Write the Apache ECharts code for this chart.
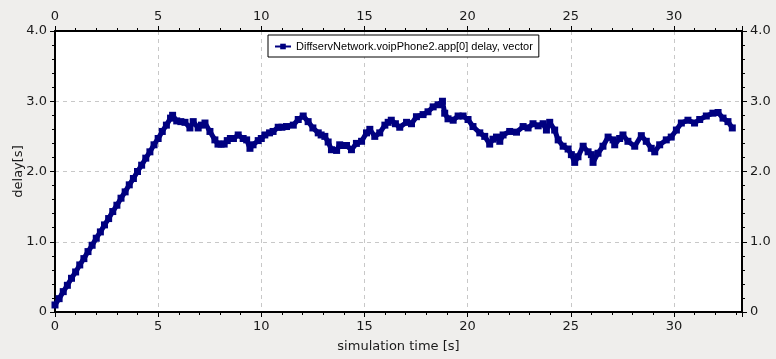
<!DOCTYPE html>
<html>
<head>
<meta charset="utf-8">
<script src="https://cdn.jsdelivr.net/npm/echarts@6/dist/echarts.min.js"></script>
<style>
html,body{margin:0;padding:0;background:#efeeec;}
#c{width:776px;height:359px;}
</style>
</head>
<body>
<div id="c"></div>
<script>
const seriesName = 'DiffservNetwork.voipPhone2.app[0] delay, vector';
const times = [0,0.2,0.4,0.6,0.8,1.0,1.2,1.4,1.6,1.8,2.0,2.2,2.4,2.6,2.8,3.0,3.2,3.4,3.6,3.8,4.0,4.2,4.4,4.6,4.8,5.0,5.2,5.4,5.6,
5.7,5.9,6.1,6.3,6.54,6.7,6.94,7.1,7.27,7.51,7.75,7.9,8.05,8.2,8.35,8.5,8.65,8.88,9.12,9.29,9.45,9.6,9.85,10.0,10.17,10.4,10.57,10.82,11.0,11.22,11.55,11.79,12.03,12.27,12.5,12.76,12.9,13.08,13.24,13.4,13.65,13.8,13.95,14.13,14.37,14.61,14.86,15.1,15.26,15.5,15.74,15.99,16.15,16.3,16.5,16.71,17.04,17.28,17.52,17.84,18.08,18.33,18.57,18.78,18.89,19.05,19.3,19.54,19.78,20.02,20.26,20.59,20.83,21.07,21.23,21.4,21.56,21.72,22.04,22.37,22.69,22.93,23.17,23.42,23.66,23.82,23.98,24.22,24.39,24.63,24.87,25.03,25.19,25.35,25.6,25.84,26.0,26.08,26.32,26.56,26.81,27.05,27.13,27.37,27.53,27.77,28.1,28.42,28.66,28.9,29.07,29.31,29.63,29.87,30.12,30.36,30.68,31.0,31.25,31.57,31.89,32.14,32.38,32.62,32.83];
const delays = [0.10,0.19,0.29,0.38,0.48,0.57,0.67,0.76,0.86,0.95,1.05,1.14,1.24,1.33,1.43,1.52,1.62,1.71,1.81,1.90,2.00,2.09,2.19,2.28,2.38,2.47,2.57,2.66,2.76,
2.80,2.72,2.71,2.70,2.62,2.71,2.62,2.66,2.69,2.57,2.45,2.39,2.39,2.39,2.44,2.47,2.47,2.52,2.47,2.45,2.33,2.38,2.44,2.47,2.52,2.55,2.57,2.63,2.63,2.64,2.66,2.74,2.79,2.71,2.62,2.55,2.52,2.50,2.42,2.31,2.30,2.38,2.37,2.37,2.31,2.40,2.43,2.55,2.60,2.50,2.55,2.66,2.70,2.73,2.68,2.63,2.70,2.68,2.78,2.81,2.85,2.92,2.95,3.00,2.83,2.75,2.73,2.79,2.79,2.74,2.64,2.55,2.50,2.39,2.46,2.49,2.43,2.52,2.57,2.56,2.64,2.62,2.68,2.65,2.68,2.59,2.70,2.59,2.45,2.36,2.32,2.24,2.13,2.21,2.36,2.28,2.24,2.13,2.26,2.36,2.49,2.45,2.38,2.47,2.52,2.43,2.36,2.51,2.43,2.33,2.28,2.38,2.45,2.49,2.59,2.69,2.73,2.69,2.74,2.79,2.83,2.84,2.76,2.71,2.62];
const xMin = 0, xMax = 33.3, xStep = 5;
const yMin = 0, yMax = 4, yStep = 1;

const chart = echarts.init(document.getElementById('c'), null, {renderer:'canvas'});
const font = 'DejaVu Sans';
const lbl = {color:'#1a1a1a', fontFamily:font, fontSize:13};
const xFmt = v => (Math.abs(v % 5) < 1e-6 ? String(Math.round(v)) : '');
const yFmt = v => (v === 0 ? '0' : v.toFixed(1));
function xAxisDef(pos, withName){
  return {
    type:'value', position:pos, min:xMin, max:xMax, interval:xStep,
    name: withName ? 'simulation time [s]' : '', nameLocation:'middle', nameGap:28, nameMoveOverlap:false,
    nameTextStyle:{color:'#1a1a1a', fontFamily:font, fontSize:13},
    axisLine:{show:true, onZero:false, lineStyle:{color:'#000', width:2}},
    axisTick:{show:true, inside:false, length:5, lineStyle:{color:'#000'}},
    minorTick:{show:true, splitNumber:5, length:3, lineStyle:{color:'#000'}},
    axisLabel:Object.assign({margin:8, formatter:xFmt, showMaxLabel:false}, lbl),
    splitLine:{show: withName, lineStyle:{color:'#c8c8c8', type:[4,4], width:1}}
  };
}
function yAxisDef(pos, withName){
  return {
    type:'value', position:pos, min:yMin, max:yMax, interval:yStep,
    name: withName ? 'delay[s]' : '', nameLocation:'middle', nameGap:30, nameMoveOverlap:false,
    nameTextStyle:{color:'#1a1a1a', fontFamily:font, fontSize:13},
    axisLine:{show:true, onZero:false, lineStyle:{color:'#000', width:2}},
    axisTick:{show:true, inside:false, length:5, lineStyle:{color:'#000'}},
    minorTick:{show:true, splitNumber:5, length:3, lineStyle:{color:'#000'}},
    axisLabel:Object.assign({margin:8, formatter:yFmt}, lbl),
    splitLine:{show: withName, lineStyle:{color:'#c8c8c8', type:[4,4], width:1}}
  };
}
chart.setOption({
  backgroundColor:'#efeeec',
  animation:false,
  grid:{left:55, right:34, top:31, bottom:47, show:true, backgroundColor:'#ffffff', borderWidth:0, containLabel:false, outerBoundsMode:'none'},
  legend:{
    left:268, top:35, data:[seriesName],
    backgroundColor:'#ffffff', borderColor:'#000', borderWidth:1, borderRadius:0,
    padding:[6,6,5,6], itemWidth:16, itemHeight:7, itemGap:3,
    textStyle:{color:'#000', fontFamily:'Liberation Sans', fontSize:11}
  },
  xAxis:[xAxisDef('bottom', true), xAxisDef('top', false)],
  yAxis:[yAxisDef('left', true), yAxisDef('right', false)],
  series:[{
    name:seriesName, type:'line', xAxisIndex:0, yAxisIndex:0,
    data: times.map((t,i)=>[t, delays[i]]),
    symbol:'rect', symbolSize:7, showAllSymbol:true,
    lineStyle:{color:'#000080', width:5},
    itemStyle:{color:'#000080'}
  }]
});
</script>
</body>
</html>
